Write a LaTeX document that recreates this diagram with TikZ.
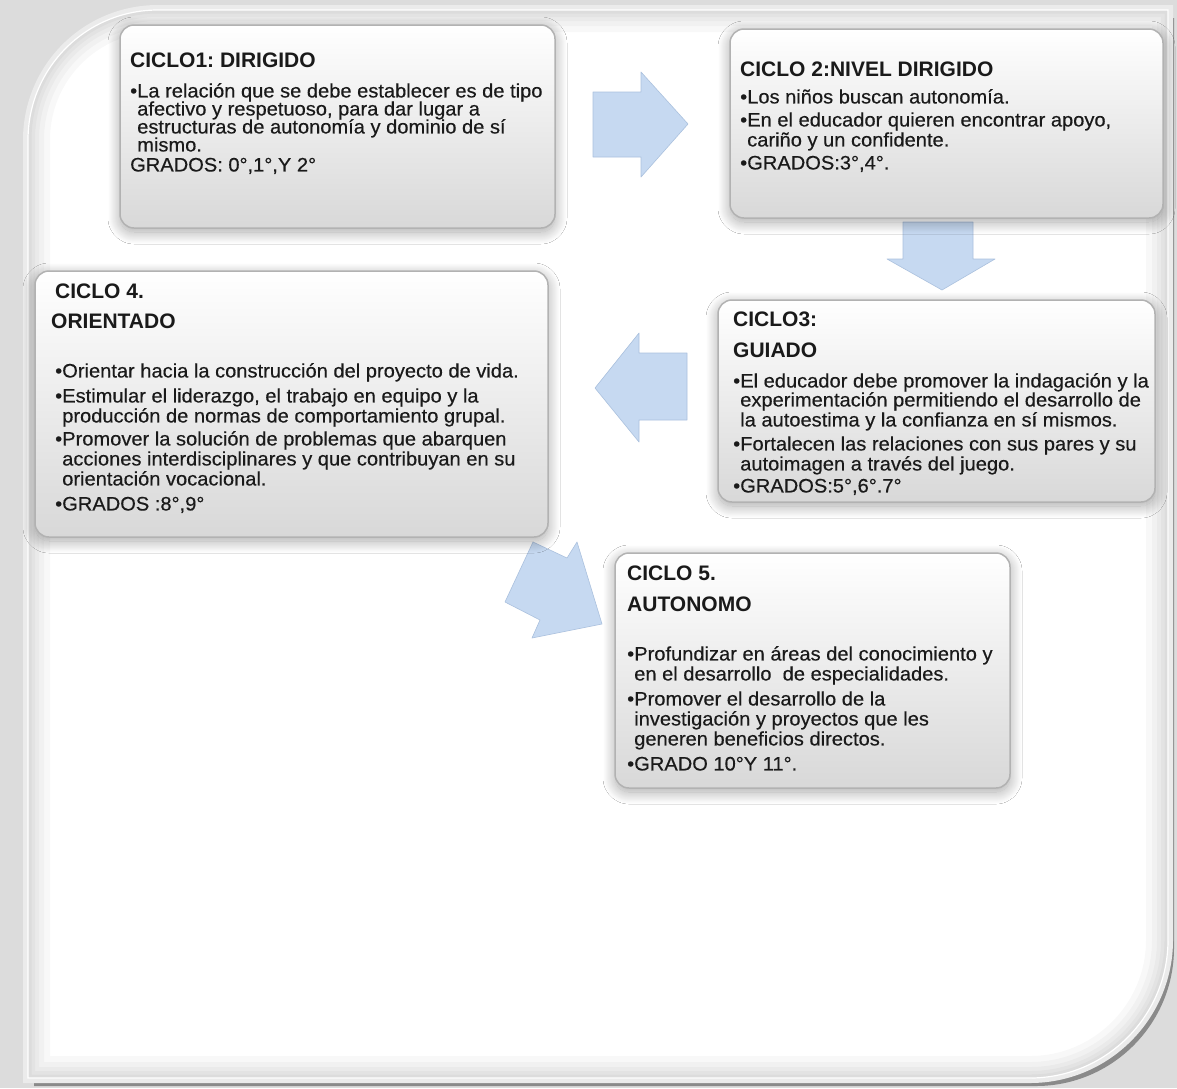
\documentclass[tikz,border=0pt]{standalone}
\usepackage{fontspec}
\setmainfont{Liberation Sans}[FakeStretch=1.03, FakeBold=0.4]
\newfontfamily\titlefamily{Liberation Sans}
\newcommand{\ttl}[1]{{\titlefamily\bfseries\fontsize{21}{20}\selectfont #1}}
\frenchspacing
\usetikzlibrary{shadows.blur}
\definecolor{arrowblue}{HTML}{C6D9F1}
\definecolor{arrowedge}{HTML}{ABC1DE}
\definecolor{txt}{HTML}{1A1A1A}
\definecolor{bggray}{HTML}{DCDCDC}
\definecolor{shadowgray}{HTML}{8A8A8A}
\definecolor{boxbottom}{HTML}{D8D8D8}
\def\panelpath{(28,1078) -- (28,140) .. controls (28,68) and (86,10) .. (158,10) -- (1168,10) -- (1168,940) .. controls (1168,1016) and (1106,1078) .. (1030,1078) -- cycle}
\begin{document}
\begin{tikzpicture}[x=1pt,y=-1pt,
  stagebox/.style={rectangle, rounded corners=14pt, draw=gray!60, line width=1.5pt,
    top color=white, bottom color=boxbottom,
    blur shadow={shadow xshift=0pt, shadow yshift=-4pt, shadow blur radius=12pt, shadow blur steps=24, shadow opacity=35},
    inner sep=0pt},
  stagetext/.style={anchor=north west, inner sep=0pt, align=left, text=txt,
    font=\fontsize{19.5}{20}\selectfont\frenchspacing},
  blockarrow/.style={fill=arrowblue, draw=arrowedge, line width=0.6pt, line join=round}
]
\useasboundingbox (0,0) rectangle (1177,1088);
% frame
\fill[bggray] (0,0) rectangle (1177,1088);
\fill[shadowgray, xshift=6pt, yshift=-8pt] \panelpath;
\draw[black!8, line width=10pt] \panelpath;
\fill[white] \panelpath;
\begin{scope}
  \clip \panelpath;
  \foreach \w in {44,32,22,14,7} \draw[black, opacity=0.028, line width=\w pt] \panelpath;
\end{scope}
\draw[white, line width=1.2pt] \panelpath;

% arrows
\draw[blockarrow] (593,92) -- (641,92) -- (641,72) -- (688,124) -- (641,177) -- (641,157) -- (593,157) -- cycle;
\draw[blockarrow] (903,222) -- (973,222) -- (973,259) -- (995,259) -- (942,290) -- (887,259) -- (903,259) -- cycle;
\draw[blockarrow] (687,353) -- (639,353) -- (639,333) -- (595,388) -- (639,442) -- (639,420) -- (687,420) -- cycle;
\draw[blockarrow] (533,542) -- (567,558) -- (577,542) -- (602,624) -- (532,638) -- (540,620) -- (505,602) -- cycle;

% boxes
\node[stagebox, minimum width=435pt, minimum height=203pt] (b1) at (337.5,126.5) {};
\node[stagebox, minimum width=433pt, minimum height=189pt] (b2) at (946.5,123.5) {};
\node[stagebox, minimum width=437pt, minimum height=202pt] (b3) at (936.5,401) {};
\node[stagebox, minimum width=513pt, minimum height=266pt] (b4) at (291.5,404) {};
\node[stagebox, minimum width=395pt, minimum height=235pt] (b5) at (812.5,670.5) {};

% texts
\node[stagetext] (t1) at (130,52.6) {\ttl{CICLO1: DIRIGIDO}\\[10pt]
•La relación que se debe establecer es de tipo\\[-2pt]
\hphantom{•}afectivo y respetuoso, para dar lugar a\\[-2pt]
\hphantom{•}estructuras de autonomía y dominio de sí\\[-2pt]
\hphantom{•}mismo.\\
GRADOS: 0°,1°,Y 2°};

\node[stagetext] (t2) at (740,61.6) {\ttl{CICLO 2:NIVEL DIRIGIDO}\\[7pt]
•Los niños buscan autonomía.\\[3pt]
•En el educador quieren encontrar apoyo,\\
\hphantom{•}cariño y un confidente.\\[3pt]
•GRADOS:3°,4°.};

\node[stagetext] (t3) at (733,311.6) {\ttl{CICLO3:}\\[11pt]
\ttl{GUIADO}\\[10pt]
•El educador debe promover la indagación y la\\[-1pt]
\hphantom{•}experimentación permitiendo el desarrollo de\\
\hphantom{•}la autoestima y la confianza en sí mismos.\\[4pt]
•Fortalecen las relaciones con sus pares y su\\
\hphantom{•}autoimagen a través del juego.\\[2pt]
•GRADOS:5°,6°.7°};

\node[stagetext] (t4) at (51,283.6) {\hspace{4pt}\ttl{CICLO 4.}\\[10pt]
\ttl{ORIENTADO}\\[29pt]
\hspace{4pt}•Orientar hacia la construcción del proyecto de vida.\\[5pt]
\hspace{4pt}•Estimular el liderazgo, el trabajo en equipo y la\\
\hspace{4pt}\hphantom{•}producción de normas de comportamiento grupal.\\[3pt]
\hspace{4pt}•Promover la solución de problemas que abarquen\\
\hspace{4pt}\hphantom{•}acciones interdisciplinares y que contribuyan en su\\
\hspace{4pt}\hphantom{•}orientación vocacional.\\[5pt]
\hspace{4pt}•GRADOS :8°,9°};

\node[stagetext] (t5) at (627,565.6) {\ttl{CICLO 5.}\\[11pt]
\ttl{AUTONOMO}\\[29pt]
•Profundizar en áreas del conocimiento y\\
\hphantom{•}en el desarrollo\ \ de especialidades.\\[5pt]
•Promover el desarrollo de la\\
\hphantom{•}investigación y proyectos que les\\
\hphantom{•}generen beneficios directos.\\[5pt]
•GRADO 10°Y 11°.};
\end{tikzpicture}
\end{document}
